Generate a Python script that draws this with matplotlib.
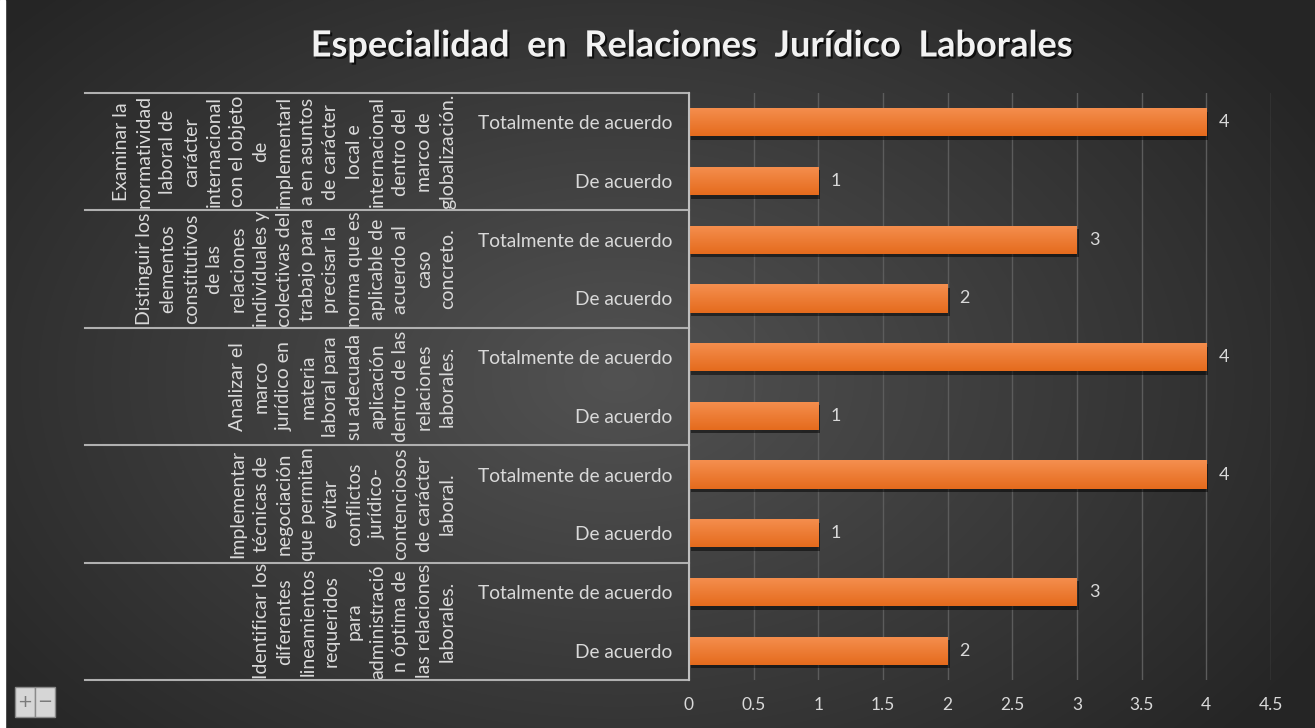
import numpy as np
import matplotlib
matplotlib.use("Agg")
import matplotlib.pyplot as plt
from matplotlib import patheffects as pe
from matplotlib.transforms import blended_transform_factory, ScaledTranslation
from matplotlib.patches import Rectangle

# ---------------- data ----------------
title = "Especialidad en Relaciones Jurídico Laborales"
groups = [
    "Examinar la\nnormatividad\nlaboral de\ncarácter\ninternacional\ncon el objeto\nde\nimplementarl\na en asuntos\nde carácter\nlocal e\ninternacional\ndentro del\nmarco de\nglobalización.",
    "Distinguir los\nelementos\nconstitutivos\nde las\nrelaciones\nindividuales y\ncolectivas del\ntrabajo para\nprecisar la\nnorma que es\naplicable de\nacuerdo al\ncaso\nconcreto.",
    "Analizar el\nmarco\njurídico en\nmateria\nlaboral para\nsu adecuada\naplicación\ndentro de las\nrelaciones\nlaborales.",
    "Implementar\ntécnicas de\nnegociación\nque permitan\nevitar\nconflictos\njurídico-\ncontenciosos\nde carácter\nlaboral.",
    "Identificar los\ndiferentes\nlineamientos\nrequeridos\npara\nadministració\nn óptima de\nlas relaciones\nlaborales.",
]
answers = ["Totalmente de acuerdo", "De acuerdo"]
totalmente = [4, 3, 4, 4, 3]
de_acuerdo = [1, 2, 1, 1, 2]
xticks = [0, 0.5, 1, 1.5, 2, 2.5, 3, 3.5, 4, 4.5]

W, H = 1315, 728
fig = plt.figure(figsize=(W / 100, H / 100), dpi=100)

# ---------------- background gradient ----------------
bg = fig.add_axes([0, 0, 1, 1], zorder=-10)
yy, xx = np.mgrid[0:H, 0:W]
cx, cy = 0.47 * W, 0.52 * H
r = np.sqrt(((xx - cx) / (0.62 * W)) ** 2 + ((yy - cy) / (0.75 * H)) ** 2)
r = np.clip(r, 0, 1)
inner = np.array([0x52, 0x52, 0x52]) / 255
outer = np.array([0x25, 0x25, 0x25]) / 255
img = inner[None, None, :] * (1 - r[..., None]) + outer[None, None, :] * r[..., None]
bg.imshow(img, extent=[0, W, H, 0], aspect="auto")
bg.set_xlim(0, W)
bg.set_ylim(H, 0)
bg.axis("off")
bg.add_patch(Rectangle((0, 0), 5, H, color="white"))

# ---------------- main axes ----------------
x0, x1 = 689, 1271
ytop, ybot = 93, 680
ax = fig.add_axes([x0 / W, 1 - ybot / H, (x1 - x0) / W, (ybot - ytop) / H])
ax.set_facecolor("none")

n = len(groups)
vals, labels, ypos = [], [], []
for g in range(n):
    base = (n - 1 - g) * 2
    vals += [totalmente[g], de_acuerdo[g]]
    labels += answers
    ypos += [base + 1, base]

bars = ax.barh(ypos, vals, height=0.48, color="#ee7a2c", zorder=3,
               path_effects=[pe.SimplePatchShadow(offset=(1.5, -2.5), shadow_rgbFace="black", alpha=0.5), pe.Normal()])

# vertical orange gradient inside every bar
top_c = np.array([0xf5, 0x8f, 0x4f]) / 255
bot_c = np.array([0xe5, 0x6b, 0x1d]) / 255
t = np.linspace(0, 1, 64)[:, None]
grad = (top_c[None, :] * (1 - t) + bot_c[None, :] * t)[:, None, :]
for b in bars:
    im = ax.imshow(grad, extent=[b.get_x(), b.get_x() + b.get_width(),
                                 b.get_y(), b.get_y() + b.get_height()],
                   origin="upper", aspect="auto", zorder=3.5)
    im.set_clip_path(b)
ax.set_aspect("auto")

off = ScaledTranslation(12 / 100, 0, fig.dpi_scale_trans)
for b, v in zip(bars, vals):
    ax.text(v, b.get_y() + b.get_height() / 2, f"{v}", va="center", ha="left",
            color="#d9d9d9", fontsize=13, family="Lato",
            transform=ax.transData + off)

ax.set_xlim(0, 4.5)
ax.set_ylim(-0.5, 2 * n - 0.5)
ax.set_xticks(xticks)
ax.set_xticklabels([f"{t:g}" for t in xticks], color="#d9d9d9", fontsize=12.5, family="Lato")
ax.set_yticks(ypos)
ax.set_yticklabels(labels, color="#d9d9d9", fontsize=13.8, family="Lato")
ax.tick_params(axis="y", length=0, pad=12)
ax.tick_params(axis="x", length=0, pad=12)
ax.grid(axis="x", color="#5c5c5c", linewidth=1, zorder=0)
for s in ["top", "right", "bottom"]:
    ax.spines[s].set_visible(False)
ax.spines["left"].set_color("#bfbfbf")
ax.spines["left"].set_linewidth(1.5)
ax.spines["left"].set_zorder(5)

# separators of the category box
tr = blended_transform_factory(fig.transFigure, ax.transData)
for k in range(n + 1):
    yb = 2 * k - 0.5
    ax.plot([85 / W, x0 / W], [yb, yb], transform=tr, color="#b0b0b0", lw=1.5, clip_on=False, zorder=5)

# group labels (rotated)
for g, txt in enumerate(groups):
    yc = (n - 1 - g) * 2 + 0.5
    ax.text(456 / W, yc, txt, transform=tr, rotation=90, ha="right", va="center",
            multialignment="center", color="#d9d9d9", fontsize=14, family="Lato",
            linespacing=1.45)

# title
fig.text(692 / W, 1 - 46 / H, title.replace(" ", "  "), ha="center", va="center", color="#f2f2f2",
         fontsize=26, fontweight="bold", family="Lato",
         path_effects=[pe.withSimplePatchShadow(offset=(1.5, -1.5), shadow_rgbFace="black", alpha=0.7)])

# zoom buttons (UI artefact)
for i, sym in enumerate(["+", "\u2212"]):
    bx = 15 + 20 * i
    bg.add_patch(Rectangle((bx, 687), 20, 30, facecolor="#d6d6d6", edgecolor="#8a8a8a", lw=1, zorder=5))
    bg.text(bx + 10, 702, sym, ha="center", va="center", color="#7a7a7a", fontsize=13, zorder=6)

fig.savefig("out.png", dpi=100, facecolor="#2a2a2a")
